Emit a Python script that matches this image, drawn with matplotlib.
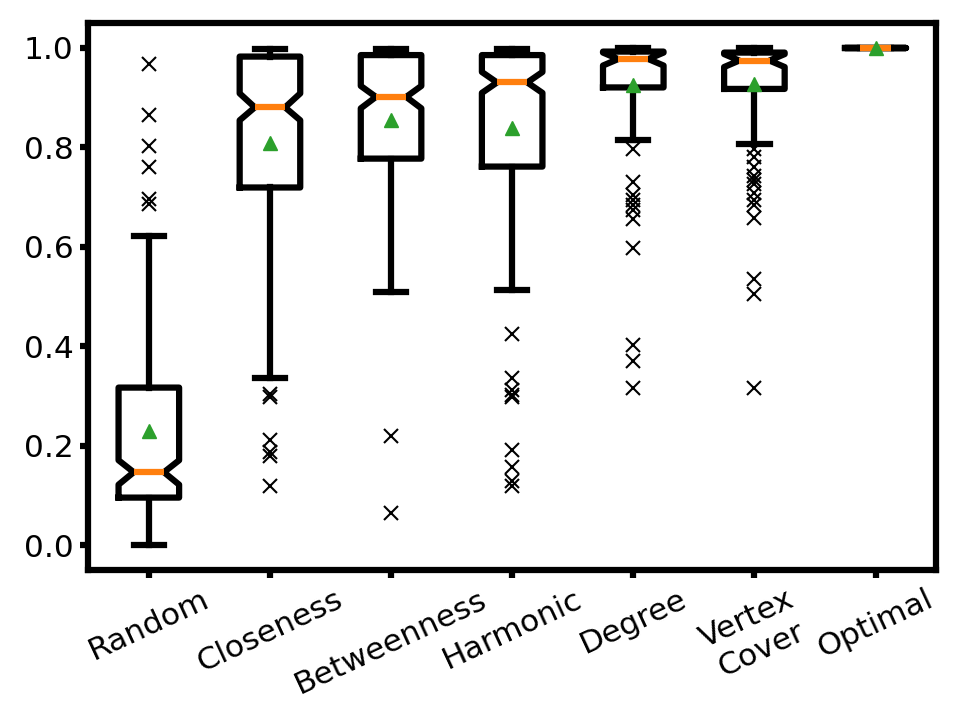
import matplotlib
matplotlib.use("Agg")
import matplotlib.pyplot as plt

labels = ["Random", "Closeness", "Betweenness", "Harmonic", "Degree", "Vertex\nCover", "Optimal"]

# box statistics
whislo = [0.000, 0.337, 0.509, 0.514, 0.814, 0.807, 1.0]
q1 = [0.096, 0.719, 0.777, 0.761, 0.920, 0.917, 1.0]
cilo = [0.122, 0.854, 0.878, 0.909, 0.964, 0.961, 1.0]
med = [0.147, 0.880, 0.901, 0.930, 0.977, 0.974, 1.0]
cihi = [0.171, 0.908, 0.923, 0.951, 0.990, 0.987, 1.0]
q3 = [0.317, 0.982, 0.985, 0.985, 0.992, 0.990, 1.0]
whishi = [0.621, 0.997, 0.997, 0.997, 1.000, 1.000, 1.0]
means = [0.229, 0.809, 0.854, 0.838, 0.924, 0.927, 1.0]

fliers = [
    [0.968, 0.864, 0.802, 0.761, 0.695, 0.685],
    [0.305, 0.298, 0.212, 0.188, 0.179, 0.119],
    [0.219, 0.066],
    [0.425, 0.337, 0.313, 0.302, 0.298, 0.192, 0.157, 0.129, 0.119],
    [0.797, 0.731, 0.703, 0.693, 0.683, 0.673, 0.655, 0.597, 0.403, 0.371, 0.316],
    [0.797, 0.780, 0.760, 0.743, 0.735, 0.727, 0.707, 0.693, 0.683, 0.657, 0.536, 0.506, 0.316],
    [],
]

stats = []
for i in range(len(labels)):
    stats.append(dict(label=labels[i], whislo=whislo[i], q1=q1[i], cilo=cilo[i],
                      med=med[i], cihi=cihi[i], q3=q3[i], whishi=whishi[i],
                      mean=means[i], fliers=fliers[i]))

lw = 4.5
fig = plt.figure(figsize=(9.68, 7.26), dpi=100)
ax = fig.add_axes([0.0912, 0.2145, 0.967 - 0.0912, 0.9687 - 0.2145])

ax.bxp(stats, shownotches=True, showmeans=True,
       boxprops=dict(linewidth=lw, color="black"),
       whiskerprops=dict(linewidth=lw, color="black"),
       capprops=dict(linewidth=lw, color="black"),
       medianprops=dict(linewidth=lw, color="#ff7f0e"),
       meanprops=dict(marker="^", markerfacecolor="#2ca02c", markeredgecolor="#2ca02c",
                      markersize=10.5, markeredgewidth=1),
       flierprops=dict(marker="x", markeredgecolor="black", markersize=10,
                       markeredgewidth=1.5))

ax.set_ylim(-0.05, 1.05)
ax.set_xlim(0.5, 7.5)
ax.set_yticks([0.0, 0.2, 0.4, 0.6, 0.8, 1.0])
for s in ax.spines.values():
    s.set_linewidth(lw)
ax.tick_params(axis="both", width=lw, length=5.5, labelsize=22.5, pad=5)
plt.setp(ax.get_xticklabels(), rotation=25, ha="center")

fig.savefig("out.png", dpi=100)
